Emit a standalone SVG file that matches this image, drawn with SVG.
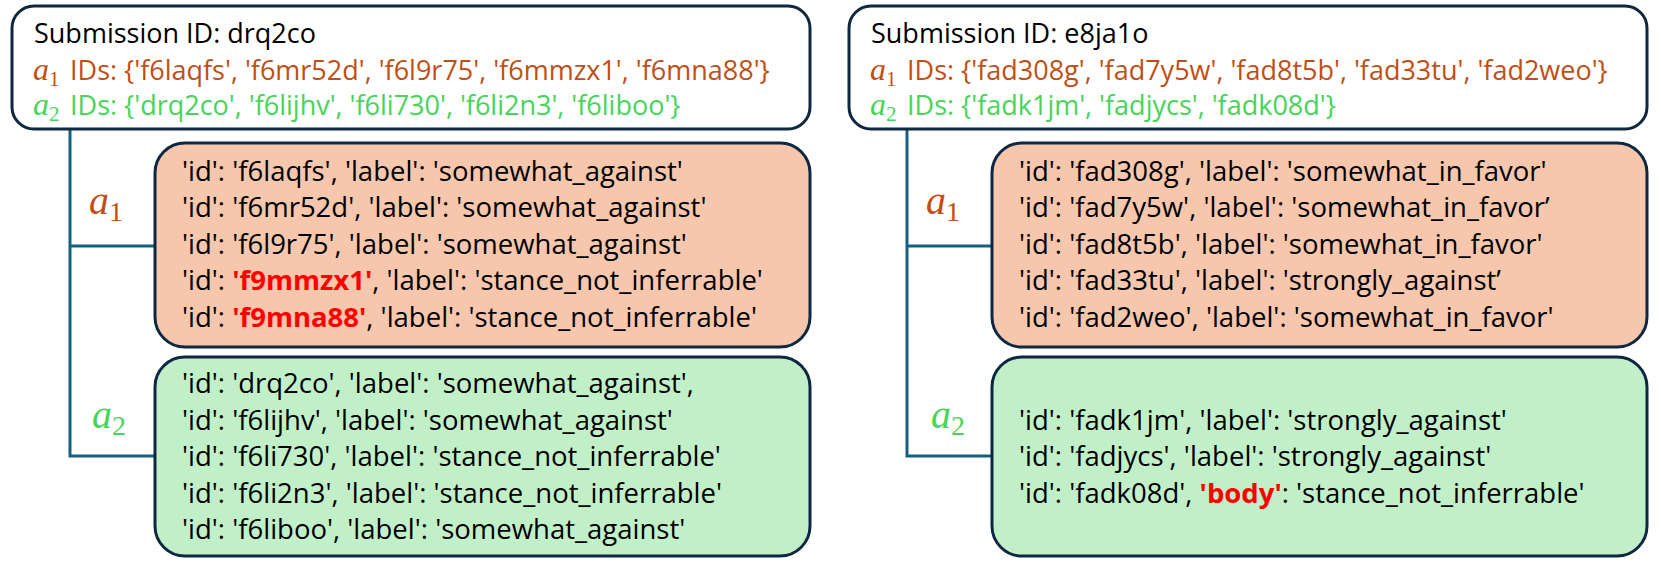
<svg xmlns="http://www.w3.org/2000/svg" width="1661" height="572" viewBox="0 0 1661 572">
<style>
.box{stroke:#0E2841;stroke-width:3}
.top{fill:#FFFFFF}
.a1b{fill:#F6C6AD}
.a2b{fill:#C1F0C8}
.t{font-family:"Open Sans","Liberation Sans",sans-serif;font-size:27.5px;fill:#000}
.h{font-family:"Open Sans","Liberation Sans",sans-serif;font-size:27px;fill:#000}
.o{fill:#C04F15}
.g{fill:#47D45A}
.m{font-family:"Liberation Serif","DejaVu Serif",serif;font-style:italic}
.s{font-family:"Liberation Serif","DejaVu Serif",serif;font-style:normal}
.r{fill:#FF0000;font-weight:bold}
.lab{font-size:40px}
.conn{fill:none;stroke:#156082;stroke-width:3}
</style>
<g id="connectors">
<path class="conn" d="M70,129 V456 H155 M70,246 H155"/>
<path class="conn" d="M907,129 V456 H992 M907,246 H992"/>
</g>
<g id="left-header">
<rect class="box top" x="12" y="6" width="798" height="123" rx="22"/>
<text class="h" x="34" y="43">Submission ID: drq2co</text>
<text class="h o" x="33" y="80"><tspan class="m" font-size="32">a</tspan><tspan class="s" font-size="21" dy="6">1</tspan><tspan x="70" dy="-6">IDs: {'f6laqfs', 'f6mr52d', 'f6l9r75', 'f6mmzx1', 'f6mna88'}</tspan></text>
<text class="h g" x="33" y="115"><tspan class="m" font-size="32">a</tspan><tspan class="s" font-size="21" dy="6">2</tspan><tspan x="70" dy="-6">IDs: {'drq2co', 'f6lijhv', 'f6li730', 'f6li2n3', 'f6liboo'}</tspan></text>
</g>
<g id="left-a1">
<rect class="box a1b" x="155" y="143" width="655" height="204" rx="30"/>
<text class="t" x="182" y="181">'id': 'f6laqfs', 'label': 'somewhat_against'</text>
<text class="t" x="182" y="217">'id': 'f6mr52d', 'label': 'somewhat_against'</text>
<text class="t" x="182" y="254">'id': 'f6l9r75', 'label': 'somewhat_against'</text>
<text class="t" x="182" y="290">'id': <tspan class="r">'f9mmzx1'</tspan>, 'label': 'stance_not_inferrable'</text>
<text class="t" x="182" y="327">'id': <tspan class="r">'f9mna88'</tspan>, 'label': 'stance_not_inferrable'</text>
</g>
<g id="left-a1-label">
<text class="o" x="89" y="214"><tspan class="m lab">a</tspan><tspan class="s" font-size="28" dy="7">1</tspan></text>
</g>
<g id="left-a2">
<rect class="box a2b" x="155" y="357" width="655" height="199" rx="30"/>
<text class="t" x="182" y="393">'id': 'drq2co', 'label': 'somewhat_against',</text>
<text class="t" x="182" y="430">'id': 'f6lijhv', 'label': 'somewhat_against'</text>
<text class="t" x="182" y="466">'id': 'f6li730', 'label': 'stance_not_inferrable'</text>
<text class="t" x="182" y="503">'id': 'f6li2n3', 'label': 'stance_not_inferrable'</text>
<text class="t" x="182" y="539">'id': 'f6liboo', 'label': 'somewhat_against'</text>
</g>
<g id="left-a2-label">
<text class="g" x="92" y="428"><tspan class="m lab">a</tspan><tspan class="s" font-size="28" dy="7">2</tspan></text>
</g>
<g id="right-header">
<rect class="box top" x="849" y="6" width="798" height="123" rx="22"/>
<text class="h" x="871" y="43">Submission ID: e8ja1o</text>
<text class="h o" x="870" y="80"><tspan class="m" font-size="32">a</tspan><tspan class="s" font-size="21" dy="6">1</tspan><tspan x="907" dy="-6">IDs: {'fad308g', 'fad7y5w', 'fad8t5b', 'fad33tu', 'fad2weo'}</tspan></text>
<text class="h g" x="870" y="115"><tspan class="m" font-size="32">a</tspan><tspan class="s" font-size="21" dy="6">2</tspan><tspan x="907" dy="-6">IDs: {'fadk1jm', 'fadjycs', 'fadk08d'}</tspan></text>
</g>
<g id="right-a1">
<rect class="box a1b" x="992" y="143" width="655" height="204" rx="30"/>
<text class="t" x="1019" y="181">'id': 'fad308g', 'label': 'somewhat_in_favor'</text>
<text class="t" x="1019" y="217">'id': 'fad7y5w', 'label': 'somewhat_in_favor’</text>
<text class="t" x="1019" y="254">'id': 'fad8t5b', 'label': 'somewhat_in_favor'</text>
<text class="t" x="1019" y="290">'id': 'fad33tu', 'label': 'strongly_against’</text>
<text class="t" x="1019" y="327">'id': 'fad2weo', 'label': 'somewhat_in_favor'</text>
</g>
<g id="right-a1-label">
<text class="o" x="926" y="214"><tspan class="m lab">a</tspan><tspan class="s" font-size="28" dy="7">1</tspan></text>
</g>
<g id="right-a2">
<rect class="box a2b" x="992" y="357" width="655" height="199" rx="30"/>
<text class="t" x="1019" y="430">'id': 'fadk1jm', 'label': 'strongly_against'</text>
<text class="t" x="1019" y="466">'id': 'fadjycs', 'label': 'strongly_against'</text>
<text class="t" x="1019" y="503">'id': 'fadk08d', <tspan class="r">'body'</tspan>: 'stance_not_inferrable'</text>
</g>
<g id="right-a2-label">
<text class="g" x="931" y="428"><tspan class="m lab">a</tspan><tspan class="s" font-size="28" dy="7">2</tspan></text>
</g>
</svg>
